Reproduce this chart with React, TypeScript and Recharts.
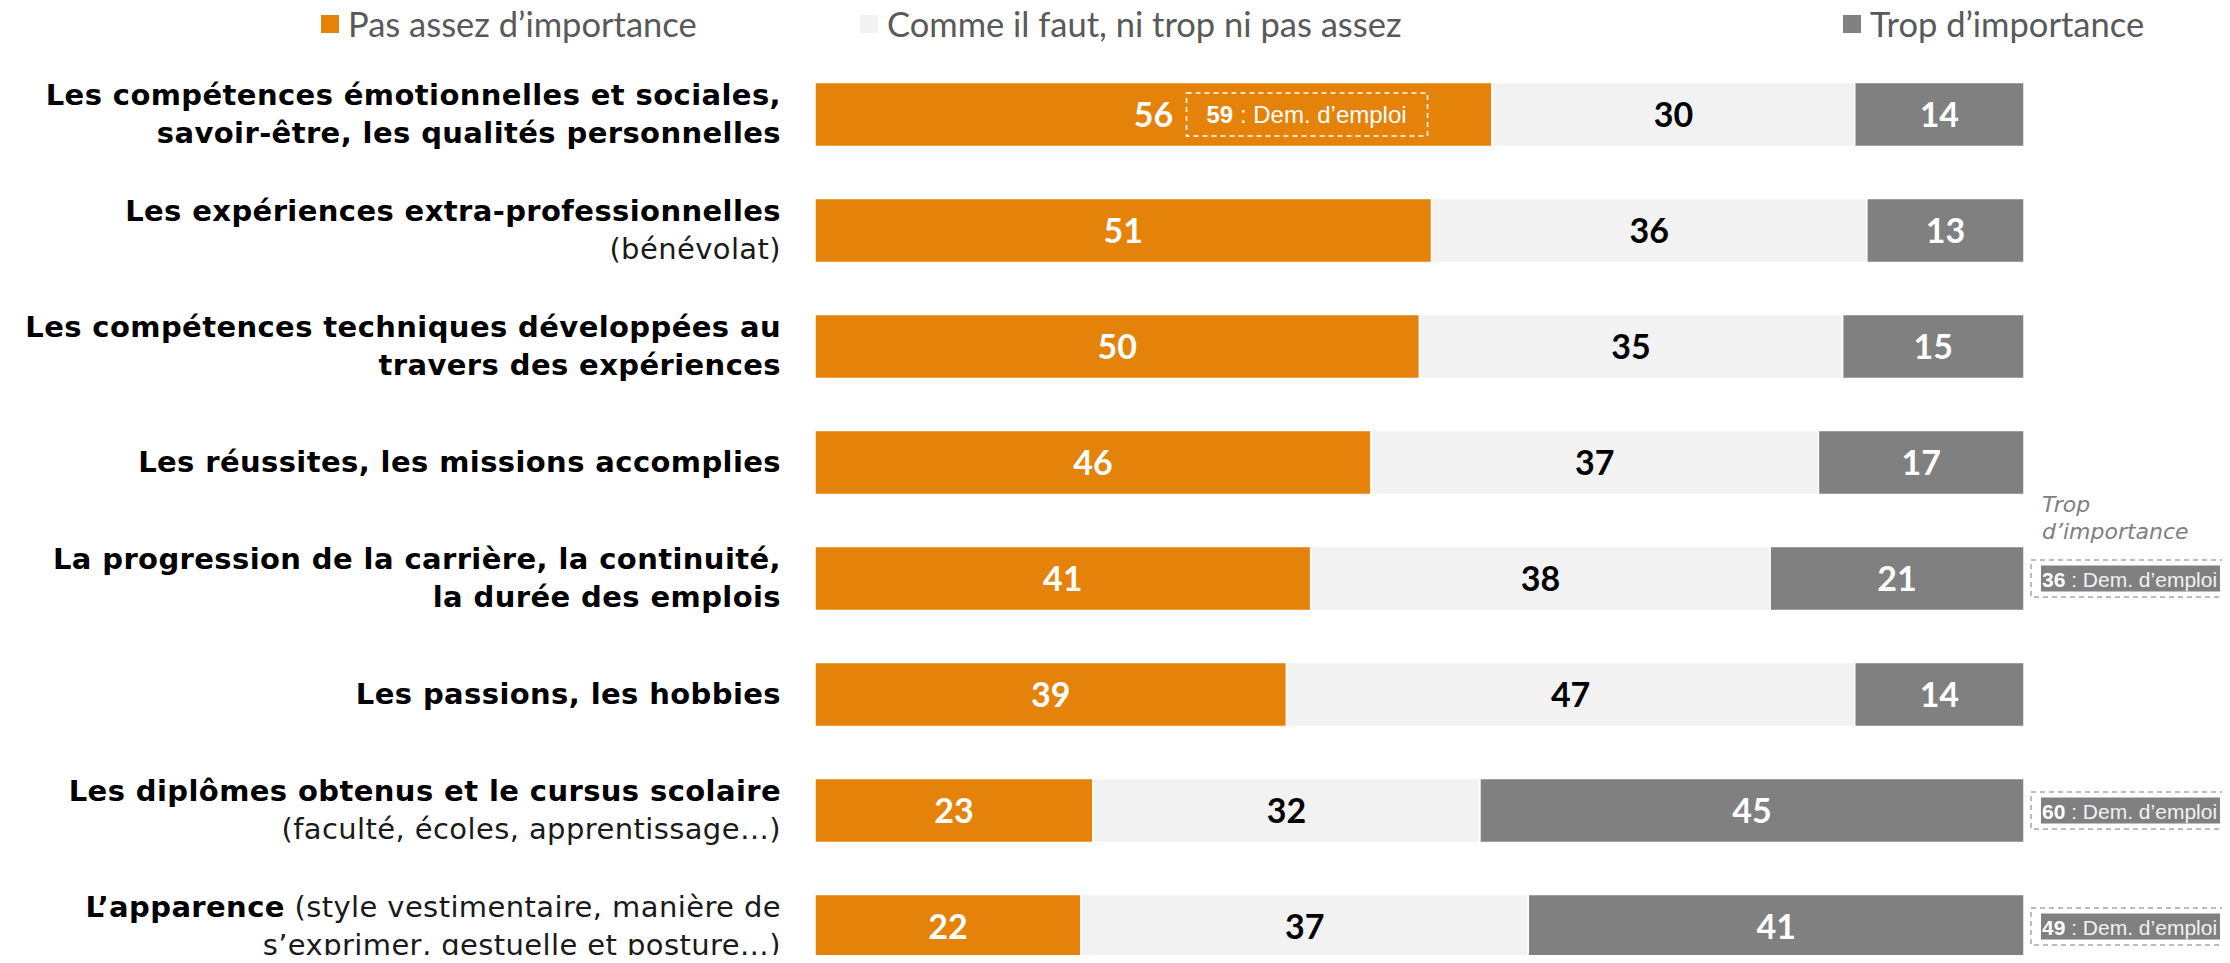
import React from 'react';
import { BarChart, Bar, XAxis, YAxis, LabelList, Legend } from 'recharts';

// Category labels: each line is a list of [text, bold]
const categoryLines: [string, boolean][][][] = [
  [[['Les compétences émotionnelles et sociales,', true]], [['savoir-être, les qualités personnelles', true]]],
  [[['Les expériences extra-professionnelles', true]], [['(bénévolat)', false]]],
  [[['Les compétences techniques développées au', true]], [['travers des expériences', true]]],
  [[['Les réussites, les missions accomplies', true]]],
  [[['La progression de la carrière, la continuité,', true]], [['la durée des emplois', true]]],
  [[['Les passions, les hobbies', true]]],
  [[['Les diplômes obtenus et le cursus scolaire', true]], [['(faculté, écoles, apprentissage…)', false]]],
  [
    [['L’apparence', true], [' (style vestimentaire, manière de', false]],
    [['s’exprimer, gestuelle et posture…)', false]],
  ],
];

const pasAssez = [56, 51, 50, 46, 41, 39, 23, 22];
const commeIlFaut = [30, 36, 35, 37, 38, 47, 32, 37];
const tropImportance = [14, 13, 15, 17, 21, 14, 45, 41];

// "Dem. d'emploi" callouts
const demEmploiPas = [59, null, null, null, null, null, null, null];
const demEmploiTrop = [null, null, null, null, 36, null, 60, 49];

const seriesNames = ['Pas assez d’importance', 'Comme il faut, ni trop ni pas assez', 'Trop d’importance'];
const seriesColors = ['#E5820A', '#F2F2F2', '#808080'];

const data = pasAssez.map((v, i) => ({
  name: String(i),
  pas: v,
  comme: commeIlFaut[i],
  trop: tropImportance[i],
}));

const LABEL_FONT = '"DejaVu Sans", Inter, sans-serif';
const VALUE_FONT = 'Lato, "Open Sans", sans-serif';

const CategoryTick = (props: any) => {
  const { x, y, payload } = props;
  const lines = categoryLines[payload.index] || [];
  const lh = 38.5;
  const start = y - ((lines.length - 1) * lh) / 2 + 9.5;
  return (
    <g>
      {lines.map((segs, li) => (
        <text
          key={li}
          x={x}
          y={start + li * lh}
          textAnchor="end"
          fontFamily={LABEL_FONT}
          fontSize={29}
          letterSpacing={0.4}
          fill="#000"
        >
          {segs.map(([t, b], si) => (
            <tspan key={si} fontWeight={b ? 700 : 400} fill={b ? '#000' : '#1a1a1a'}>
              {t}
            </tspan>
          ))}
        </text>
      ))}
    </g>
  );
};

const valueLabel = (color: string, kind: 'pas' | 'comme' | 'trop') => (props: any) => {
  const { x, y, width, height, value, index } = props;
  const cx = x + width / 2;
  const cy = y + height / 2;
  const out: React.ReactNode[] = [
    <text
      key="v"
      x={cx}
      y={cy + 12}
      textAnchor="middle"
      fontFamily={VALUE_FONT}
      fontWeight={700}
      fontSize={34}
      fill={color}
    >
      {value}
    </text>,
  ];
  if (kind === 'pas' && demEmploiPas[index] != null) {
    const bx = cx + 33;
    out.push(
      <g key="d">
        <rect x={bx} y={cy - 21.5} width={241} height={43} fill="none" stroke="#fff" strokeWidth={1.5} strokeDasharray="5 4" />
        <text x={bx + 20} y={cy + 8} fontFamily='"Liberation Sans Narrow", "Arial Narrow", "Liberation Sans", sans-serif' fontSize={24} fill="#fff">
          <tspan fontWeight={700}>{demEmploiPas[index]}</tspan>
          <tspan> : Dem. d’emploi</tspan>
        </text>
      </g>
    );
  }
  if (kind === 'trop' && demEmploiTrop[index] != null) {
    const bx = x + width + 7;
    const first = demEmploiTrop.findIndex((d) => d != null) === index;
    out.push(
      <g key="d">
        {first && (
          <text x={bx + 11} fontFamily={LABEL_FONT} fontStyle="italic" fontSize={22} fill="#7F7F7F">
            <tspan x={bx + 11} y={cy - 67}>Trop</tspan>
            <tspan x={bx + 11} y={cy - 40}>d’importance</tspan>
          </text>
        )}
        <rect x={bx} y={cy - 18.5} width={260} height={37} fill="none" stroke="#A6A6A6" strokeWidth={1.5} strokeDasharray="5 4" />
        <rect x={bx + 10} y={cy - 13} width={179} height={26} fill="#808080" />
        <text x={bx + 11} y={cy + 8} fontFamily='"Liberation Sans", Arial, sans-serif' fontSize={21} fill="#fff">
          <tspan fontWeight={700}>{demEmploiTrop[index]}</tspan>
          <tspan fill="#F2F2F2"> : Dem. d’emploi</tspan>
        </text>
      </g>
    );
  }
  return <g>{out}</g>;
};

const legendOffsets = [321, 860, 1843];

const LegendContent = () => (
  <div style={{ position: 'relative', height: 52, width: 2230 }}>
    {seriesNames.map((n, i) => (
      <div
        key={n}
        style={{
          position: 'absolute',
          left: legendOffsets[i],
          top: 3,
          display: 'flex',
          alignItems: 'center',
          fontFamily: VALUE_FONT,
          fontSize: 34.5,
          color: '#595959',
          whiteSpace: 'nowrap',
        }}
      >
        <span style={{ width: 18, height: 18, background: seriesColors[i], marginRight: 9, display: 'inline-block' }} />
        {n}
      </div>
    ))}
  </div>
);

export default function App() {
  return (
    <div style={{ position: 'relative', width: 2230, height: 963, overflow: 'hidden', margin: -8, background: '#fff' }}>
      <BarChart
        width={2230}
        height={1000}
        data={data}
        layout="vertical"
        margin={{ top: 56.5, right: 206, bottom: 15.5, left: 0 }}
        barSize={64}
      >
        <XAxis type="number" domain={[0, 100]} hide />
        <YAxis
          type="category"
          dataKey="name"
          width={815}
          axisLine={false}
          tickLine={false}
          tickSize={0}
          tickMargin={34}
          tick={<CategoryTick />}
          interval={0}
        />
        <Legend
          layout="horizontal"
          verticalAlign="middle"
          align="center"
          wrapperStyle={{ top: 0, left: 0, width: 2230 }}
          content={<LegendContent />}
        />
        <Bar dataKey="pas" name={seriesNames[0]} stackId="a" fill={seriesColors[0]} stroke="#fff" strokeWidth={1.5} isAnimationActive={false}>
          <LabelList dataKey="pas" content={valueLabel('#fff', 'pas')} />
        </Bar>
        <Bar dataKey="comme" name={seriesNames[1]} stackId="a" fill={seriesColors[1]} stroke="#fff" strokeWidth={1.5} isAnimationActive={false}>
          <LabelList dataKey="comme" content={valueLabel('#000', 'comme')} />
        </Bar>
        <Bar dataKey="trop" name={seriesNames[2]} stackId="a" fill={seriesColors[2]} stroke="#fff" strokeWidth={1.5} isAnimationActive={false}>
          <LabelList dataKey="trop" content={valueLabel('#fff', 'trop')} />
        </Bar>
      </BarChart>
    </div>
  );
}
